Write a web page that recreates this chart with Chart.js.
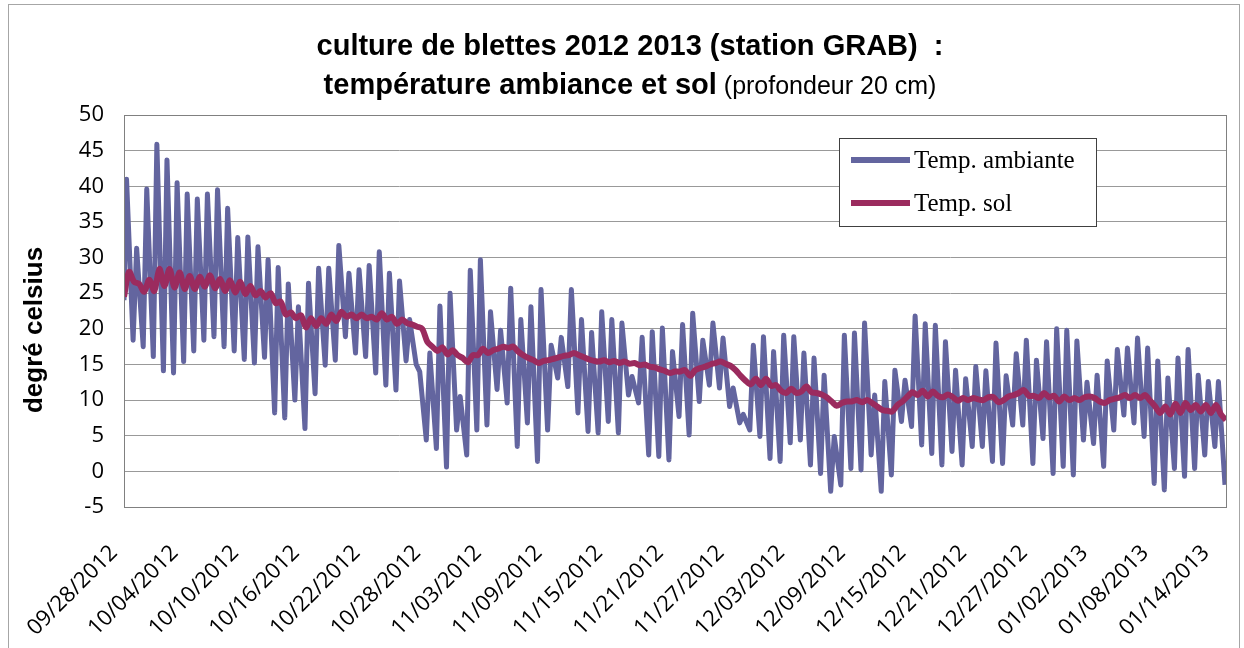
<!DOCTYPE html>
<html lang="fr">
<head>
<meta charset="UTF-8">
<title>culture de blettes 2012 2013</title>
<style>
    body { margin: 0; background: #fff; overflow: hidden; }
    #wrap { position: relative; width: 1244px; height: 648px; }
    #frame { position: absolute; left: 8px; top: 4px; width: 1230px; height: 700px; border: 1px solid #a6a6a6; pointer-events: none; }
</style>
</head>
<body>
<div id="wrap">
    <canvas id="temp-chart"></canvas>
    <div id="frame"></div>
</div>

<script src="https://cdn.jsdelivr.net/npm/chart.js"></script>
<script>
    // one label every 6 days, day 0 = 09/28/2012
    const dateLabels = ['09/28/2012', '10/04/2012', '10/10/2012', '10/16/2012', '10/22/2012', '10/28/2012',
        '11/03/2012', '11/09/2012', '11/15/2012', '11/21/2012', '11/27/2012', '12/03/2012', '12/09/2012',
        '12/15/2012', '12/21/2012', '12/27/2012', '01/02/2013', '01/08/2013', '01/14/2013'];

    // ambient temperature: first reading, then daily peak and the low that follows it
    const ambStart = 24;
    const ambMax = [41.0, 31.3, 39.6, 45.9, 43.7, 40.5, 38.9, 38.2, 38.9, 39.5,
        36.9, 32.8, 32.9, 31.5, 29.7, 28.6, 26.3, 23.1, 26.4, 28.5,
        28.5, 31.7, 27.8, 28.3, 28.9, 30.8, 27.8, 26.7, 21.3, 14.0,
        16.6, 23.2, 25.0, 10.5, 28.2, 29.7, 22.4, 19.8, 25.7, 21.3,
        23.1, 25.5, 17.7, 18.8, 25.5, 21.3, 19.5, 22.4, 21.3, 20.8,
        13.3, 18.8, 19.6, 20.1, 16.8, 20.6, 22.2, 18.4, 20.8, 18.7,
        11.7, 8.0, 17.7, 18.9, 16.8, 19.1, 18.9, 16.6, 15.9, 13.5,
        4.9, 19.1, 19.4, 20.8, 10.7, 12.6, 14.2, 12.8, 21.8, 20.7,
        20.5, 18.2, 14.2, 13.0, 14.7, 14.1, 18.0, 13.4, 16.5, 18.4,
        15.6, 18.2, 20.0, 19.8, 18.3, 12.5, 13.5, 15.5, 17.1, 17.3,
        18.7, 17.3, 15.5, 13.1, 15.9, 17.1, 13.5, 12.6, 12.6];
    const ambLow = [18.4, 17.5, 16.1, 14.1, 13.8, 15.4, 16.9, 18.4, 18.9, 17.5,
        16.9, 15.7, 15.2, 16.0, 8.2, 7.5, 10.0, 6.0, 10.9, 14.9,
        15.6, 18.9, 16.6, 16.1, 13.8, 12.1, 11.4, 15.5, 15.0, 4.4,
        3.2, 0.6, 5.8, 2.3, 5.8, 6.5, 11.5, 9.6, 3.5, 6.8,
        1.4, 5.8, 13.1, 11.9, 8.2, 5.6, 5.4, 7.0, 5.4, 10.7,
        9.6, 2.3, 2.1, 1.6, 7.7, 5.1, 9.8, 12.1, 11.7, 9.1,
        6.8, 5.8, 4.9, 1.8, 1.4, 4.0, 4.4, 0.9, -0.3, -2.8,
        -1.9, 0.4, 0.2, 2.3, -2.8, -0.5, 7.0, 6.3, 3.7, 2.5,
        0.9, 2.8, 0.9, 3.5, 3.5, 1.4, 1.1, 6.5, 6.5, 1.1,
        4.6, -0.3, 0.7, -0.5, 4.4, 3.9, 0.7, 5.8, 7.9, 6.8,
        4.9, -1.7, -2.6, 0.4, -0.7, 0.4, 2.3, 3.5, -1.9];

    // soil temperature (20 cm), one reading every half day
    const soil = [24.5, 28.0, 26.6, 26.3, 25.2, 26.9, 25.3, 28.4, 26.0, 28.4,
        25.8, 27.9, 25.6, 27.4, 25.6, 27.3, 25.9, 27.5, 25.7, 27.0,
        25.3, 26.8, 25.1, 26.6, 24.9, 26.0, 24.7, 25.3, 24.4, 25.0,
        23.6, 23.8, 22.0, 22.3,
        21.5, 21.9, 20.2, 21.5, 20.4, 21.5, 20.7, 22.0, 21.1, 22.4,
        21.7, 22.0, 21.5, 22.0, 21.5, 21.7, 21.3, 22.2, 21.3, 21.7,
        20.7, 21.3, 20.8, 20.6, 20.3, 20.0, 18.2, 17.5, 16.9, 17.4,
        16.4, 17.0, 16.3, 15.9, 15.3, 16.3, 16.3, 17.2,
        16.6, 17.0, 17.2, 17.5, 17.3, 17.5, 16.8, 16.3, 15.9, 15.6,
        15.2, 15.5, 15.6, 15.8, 16.0, 16.2, 16.3, 16.6, 16.3, 16.0,
        15.7, 15.5, 15.4, 15.6, 15.3, 15.5, 15.2, 15.4, 15.1, 15.2,
        14.9, 15.0, 14.7, 14.6, 14.3, 14.1, 13.8, 14.0,
        14.0, 14.2, 13.4, 14.2, 14.5, 14.7, 15.0, 15.2, 15.4, 15.1,
        14.8, 14.2, 13.4, 12.7, 12.2, 13.0, 12.1, 13.0, 12.0, 12.1,
        11.3, 11.0, 11.6, 11.0, 11.2, 11.9, 11.1, 11.0, 10.8, 10.4,
        9.8, 9.2, 9.6, 9.8, 9.8, 10.0,
        9.7, 10.0, 9.6, 9.1, 8.6, 8.5, 8.4, 9.3, 9.8, 10.5,
        11.1, 10.7, 11.3, 10.5, 11.2, 10.6, 10.4, 10.8, 10.4, 9.9,
        10.3, 10.0, 10.3, 10.1, 10.0, 10.4, 10.4, 9.7, 10.0, 10.5,
        10.7, 11.0, 11.4, 10.6, 10.6, 10.3, 11.0, 10.4,
        10.6, 9.8, 10.5, 10.0, 10.3, 10.0, 10.4, 10.5, 10.3, 9.8,
        9.6, 10.0, 10.2, 10.4, 10.7, 10.3, 10.7, 10.3, 10.7, 9.9,
        9.1, 8.2, 9.1, 8.0, 9.5, 8.2, 9.6, 8.6, 9.3, 8.4,
        9.3, 8.2, 9.3, 8.0, 7.2];

    const seriesNames = ['Temp. ambiante', 'Temp. sol'];
    const seriesColors = ['#63659f', '#9b2b5e'];

    const ambPoints = [{ x: 0, y: ambStart }];
    ambMax.forEach((v, i) => {
        ambPoints.push({ x: i + 0.25, y: v });
        ambPoints.push({ x: i + 0.9, y: ambLow[i] });
    });
    const soilPoints = soil.map((v, i) => ({ x: i / 2, y: v }));

    const W = 1244, H = 648;
    const plotTop = 115, plotBottom = 507, plotLeft = 124, plotRight = 1226;

    // title, y title, plot frame and the boxed legend
    const decor = {
        id: 'decor',
        afterDraw(chart) {
            const ctx = chart.ctx;
            const a = chart.chartArea;
            ctx.save();
            ctx.strokeStyle = '#808080';
            ctx.lineWidth = 1;
            ctx.strokeRect(Math.round(a.left) + 0.5, Math.round(a.top) + 0.5,
                Math.round(a.right - a.left), Math.round(a.bottom - a.top));

            ctx.fillStyle = '#000';
            ctx.textBaseline = 'alphabetic';
            ctx.textAlign = 'center';
            ctx.font = 'bold 29px "Liberation Sans", Arial, sans-serif';
            ctx.fillText('culture de blettes 2012 2013 (station GRAB)  :', 630, 55);

            const boldPart = 'température ambiance et sol';
            const regPart = ' (profondeur 20 cm)';
            ctx.font = 'bold 29px "Liberation Sans", Arial, sans-serif';
            const w1 = ctx.measureText(boldPart).width;
            ctx.font = '25px "Liberation Sans", Arial, sans-serif';
            const w2 = ctx.measureText(regPart).width;
            let x0 = 630 - (w1 + w2) / 2;
            ctx.textAlign = 'left';
            ctx.font = 'bold 29px "Liberation Sans", Arial, sans-serif';
            ctx.fillText(boldPart, x0, 94);
            ctx.font = '25px "Liberation Sans", Arial, sans-serif';
            ctx.fillText(regPart, x0 + w1, 94);

            ctx.save();
            ctx.translate(42, 330);
            ctx.rotate(-Math.PI / 2);
            ctx.textAlign = 'center';
            ctx.font = 'bold 26px "Liberation Sans", Arial, sans-serif';
            ctx.fillText('degré celsius', 0, 0);
            ctx.restore();

            // legend box
            ctx.fillStyle = '#fff';
            ctx.fillRect(839, 138, 257, 88);
            ctx.strokeStyle = '#404040';
            ctx.strokeRect(839.5, 138.5, 257, 88);
            const rows = [160, 203];
            chart.data.datasets.forEach((ds, i) => {
                ctx.strokeStyle = ds.borderColor;
                ctx.lineWidth = 6;
                ctx.beginPath();
                ctx.moveTo(851, rows[i]);
                ctx.lineTo(910, rows[i]);
                ctx.stroke();
                ctx.fillStyle = '#000';
                ctx.font = '25px "Liberation Serif", "Times New Roman", serif';
                ctx.textAlign = 'left';
                ctx.textBaseline = 'middle';
                ctx.fillText(ds.label, 914, rows[i] + 1);
            });
            ctx.restore();
        }
    };

    const ctx = document.getElementById('temp-chart').getContext('2d');
    const tempChart = new Chart(ctx, {
        type: 'line',
        data: {
            datasets: [{
                label: seriesNames[0],
                data: ambPoints,
                borderColor: seriesColors[0],
                borderWidth: 5,
                pointRadius: 0,
                tension: 0,
                borderJoinStyle: 'round',
                order: 2
            }, {
                label: seriesNames[1],
                data: soilPoints,
                borderColor: seriesColors[1],
                borderWidth: 6,
                pointRadius: 0,
                tension: 0.3,
                borderJoinStyle: 'round',
                order: 1
            }]
        },
        options: {
            responsive: true,
            maintainAspectRatio: false,
            animation: false,
            layout: { padding: { top: plotTop, right: W - plotRight, left: 30, bottom: 0 } },
            plugins: {
                legend: { display: false },
                title: { display: false },
                tooltip: { enabled: false }
            },
            scales: {
                x: {
                    type: 'linear',
                    min: 0,
                    max: 109,
                    afterFit: s => {
                        s.height = H - plotBottom;
                        s.paddingLeft = 0;
                        s.paddingRight = 0;
                    },
                    grid: { display: false },
                    border: { display: false },
                    ticks: {
                        stepSize: 6,
                        autoSkip: false,
                        includeBounds: false,
                        maxRotation: 45,
                        minRotation: 45,
                        padding: 25,
                        labelOffset: -10,
                        color: '#000',
                        font: { family: '"Open Sans", sans-serif', size: 22 },
                        callback: v => dateLabels[Math.round(v / 6)] || ''
                    }
                },
                y: {
                    min: -5,
                    max: 50,
                    afterFit: s => { s.width = plotLeft - 30; },
                    grid: { color: '#999999', drawTicks: false },
                    border: { display: false },
                    ticks: {
                        stepSize: 5,
                        padding: 20,
                        color: '#000',
                        font: { family: '"Open Sans", sans-serif', size: 22 }
                    }
                }
            }
        },
        plugins: [decor]
    });
</script>
</body>
</html>
